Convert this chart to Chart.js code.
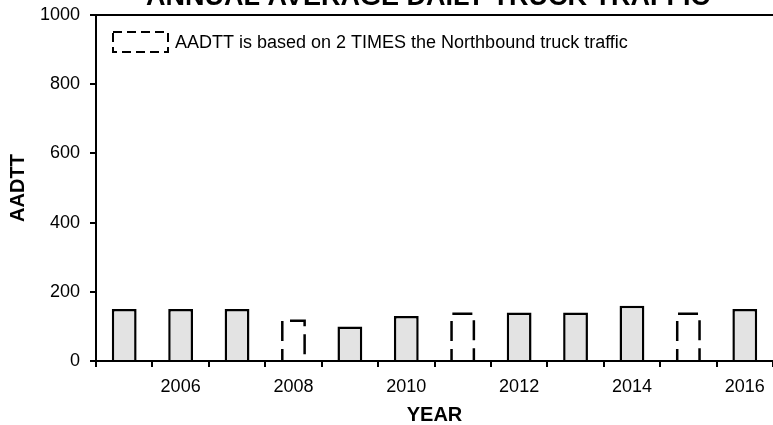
<!DOCTYPE html>
<html><head><meta charset="utf-8">
<script src="https://cdn.jsdelivr.net/npm/chart.js@4/dist/chart.umd.min.js"></script>
<style>html,body{margin:0;padding:0;background:#fff;}#wrap{width:773px;height:425px;}</style>
</head><body><div id="wrap"><canvas id="c" width="773" height="425"></canvas></div>
<script>
const years = ['2005','2006','2007','2008','2009','2010','2011','2012','2013','2014','2015','2016'];
const labeledYears = ['2006','2008','2010','2012','2014','2016'];
const countedAADTT = [150,150,150,null,100,130,null,140,140,160,null,150];
const doubledNorthboundAADTT = [null,null,null,120,null,null,140,null,null,null,140,null];
const yTicks = [0,200,400,600,800,1000];
const titleText = 'ANNUAL AVERAGE DAILY TRUCK TRAFFIC';
const legendText = 'AADTT is based on 2 TIMES the Northbound truck traffic';
const xTitle = 'YEAR';
const yTitle = 'AADTT';

const FONT = '"Liberation Sans", Arial, sans-serif';

const decorPlugin = {
  id: 'decor',
  afterDatasetsDraw(chart) {
    const ctx = chart.ctx;
    const ca = chart.chartArea;
    const meta = chart.getDatasetMeta(1);
    ctx.save();
    ctx.strokeStyle = '#000';
    ctx.lineWidth = 2.5;
    ctx.setLineDash([20, 8]);
    ctx.lineDashOffset = 9;
    meta.data.forEach((el, i) => {
      if (doubledNorthboundAADTT[i] == null) return;
      const p = el.getProps(['x','y','width','base'], true);
      const l = p.x - p.width / 2 + 1.25, r = p.x + p.width / 2 - 1.25;
      const t = p.y + 1.25, b = p.base;
      ctx.beginPath();
      ctx.moveTo(l, b); ctx.lineTo(l, t); ctx.lineTo(r, t); ctx.lineTo(r, b);
      ctx.stroke();
    });
    ctx.setLineDash([]);
    ctx.lineWidth = 2;
    const y0 = chart.scales.y.getPixelForValue(0);
    ctx.beginPath();
    ctx.moveTo(ca.left - 1, y0); ctx.lineTo(ca.right, y0);
    ctx.moveTo(ca.left - 1, ca.top); ctx.lineTo(ca.right, ca.top);
    ctx.stroke();
    ctx.restore();
  },
  afterDraw(chart) {
    const ctx = chart.ctx;
    ctx.save();
    ctx.fillStyle = '#000';
    ctx.font = 'bold 27px ' + FONT;
    ctx.textAlign = 'center';
    ctx.textBaseline = 'alphabetic';
    ctx.fillText(titleText, 428, 5);
    // legend
    ctx.strokeStyle = '#000';
    ctx.lineWidth = 2;
    ctx.setLineDash([9, 5]);
    ctx.strokeRect(113, 32, 55, 20);
    ctx.setLineDash([]);
    ctx.font = '18px ' + FONT;
    ctx.textAlign = 'left';
    ctx.textBaseline = 'middle';
    ctx.fillText(legendText, 175, 43);
    ctx.restore();
  }
};

new Chart(document.getElementById('c'), {
  type: 'bar',
  data: {
    labels: years,
    datasets: [
      { label: 'AADTT', data: countedAADTT, backgroundColor: '#e3e3e3', borderColor: '#000', borderWidth: 2.5,
        barPercentage: 0.44, categoryPercentage: 1, grouped: false },
      { label: legendText, data: doubledNorthboundAADTT, backgroundColor: '#fff', borderWidth: 0,
        barPercentage: 0.44, categoryPercentage: 1, grouped: false }
    ]
  },
  options: {
    responsive: false,
    animation: false,
    devicePixelRatio: 1,
    layout: { padding: { top: 15, right: 0, left: 0, bottom: 0 } },
    plugins: { legend: { display: false }, tooltip: { enabled: false }, title: { display: false } },
    scales: {
      x: {
        offset: true,
        grid: { offset: true, drawOnChartArea: false, drawTicks: true, tickLength: 6, color: '#000', lineWidth: 2 },
        border: { display: true, color: '#000', width: 2 },
        ticks: {
          autoSkip: false, maxRotation: 0, padding: 9, color: '#000',
          font: { family: FONT, size: 18 },
          callback: (v, i) => labeledYears.includes(years[i]) ? years[i] : ''
        },
        title: { display: true, text: xTitle, color: '#000', font: { family: FONT, size: 20, weight: 'bold', lineHeight: 1 }, padding: { top: 0, bottom: 0 } },
        afterFit: (s) => { s.height = 64; s.paddingLeft = 0; s.paddingRight = 0; }
      },
      y: {
        min: 0, max: 1000,
        afterBuildTicks: (s) => { s.ticks = yTicks.map(v => ({ value: v })); },
        grid: { drawOnChartArea: false, drawTicks: true, tickLength: 6, color: '#000', lineWidth: 2 },
        border: { display: true, color: '#000', width: 2 },
        ticks: { padding: 10, color: '#000', font: { family: FONT, size: 18 }, callback: (v) => String(v) },
        title: { display: true, text: yTitle, color: '#000', font: { family: FONT, size: 20, weight: 'bold', lineHeight: 1 }, padding: { top: 8, bottom: 0 } },
        afterFit: (s) => { s.width = 96; s.paddingTop = 0; s.paddingBottom = 0; }
      }
    }
  },
  plugins: [decorPlugin]
});
</script>
</body></html>
